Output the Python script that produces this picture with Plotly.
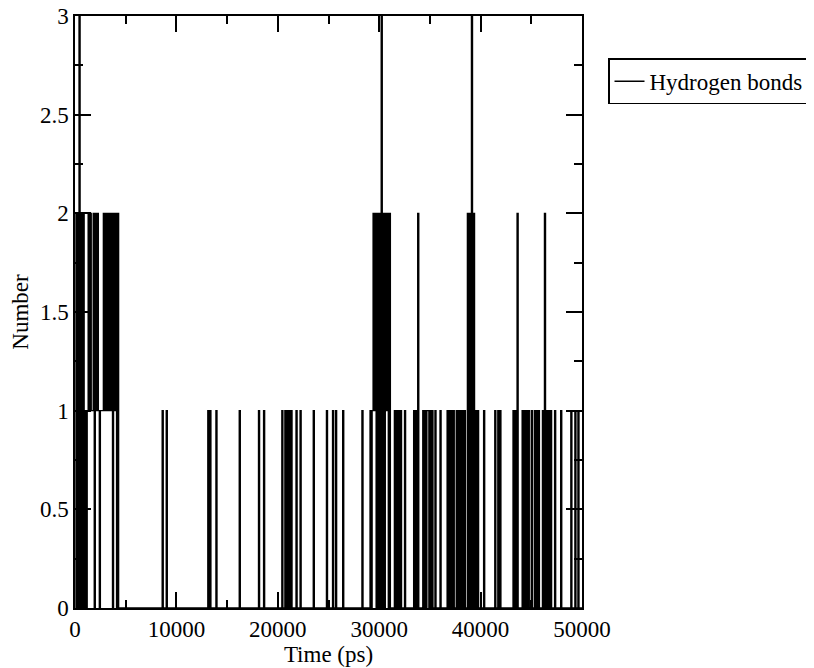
import numpy as np
import plotly.graph_objects as go

# Hydrogen-bond count vs time, sampled every 100 ps (0 .. 50000 ps).
# Frames not listed below have 0 hydrogen bonds.
frame_step_ps = 100
t_end_ps = 50000

nz_frame = [
    0, 2, 4, 6, 8, 10, 12, 13, 14, 15, 16, 17, 18, 20, 21, 22, 23, 25, 26, 27,
    28, 29, 30, 31, 32, 33, 34, 35, 36, 38, 39, 40, 42,
    86, 90, 131, 133, 139, 162, 181, 186, 204,
    207, 209, 211, 213,
    218, 222, 235, 248, 254, 257, 264, 283, 291, 293,
    294, 295, 296, 298, 300, 302, 304, 306, 307, 308, 310,
    315, 317, 319, 321, 325, 334, 336, 338,
    343, 345, 347, 348, 350, 352, 355, 360,
    367, 369, 371, 373,
    376, 378, 380, 382, 384,
    387, 389, 391, 393, 395, 397,
    403, 414, 417, 419, 432, 434, 436,
    441, 443, 445, 447, 450, 453, 455, 457,
    461, 463, 465, 467, 469,
    473, 479, 489, 493, 496,
]
nz_count = [
    2, 2, 3, 2, 2, 1, 1, 2, 1, 2, 1, 1, 2, 2, 1, 2, 1, 1, 1, 1,
    2, 1, 2, 1, 2, 1, 2, 1, 2, 2, 1, 2, 2,
    1, 1, 1, 1, 1, 1, 1, 1, 1,
    1, 1, 1, 1,
    1, 1, 1, 1, 1, 1, 1, 1, 1, 1,
    2, 1, 2, 2, 2, 3, 2, 2, 1, 2, 2,
    1, 1, 1, 1, 1, 1, 1, 2,
    1, 1, 1, 1, 1, 1, 1, 1,
    1, 1, 1, 1,
    1, 1, 1, 1, 1,
    2, 2, 3, 2, 1, 1,
    1, 1, 1, 1, 1, 1, 2,
    1, 1, 1, 1, 1, 1, 1, 1,
    1, 2, 1, 1, 1,
    1, 1, 1, 1, 1,
]

x_tickvals = [0, 10000, 20000, 30000, 40000, 50000]
x_ticktext = ["0", "10000", "20000", "30000", "40000", "50000"]
y_tickvals = [0, 0.5, 1, 1.5, 2, 2.5, 3]
y_ticktext = ["0", "0.5", "1", "1.5", "2", "2.5", "3"]

n_frames = t_end_ps // frame_step_ps + 1
time_ps = np.arange(n_frames) * frame_step_ps
counts = np.zeros(n_frames)
counts[np.array(nz_frame)] = nz_count

FONT = "Liberation Serif"
FS = 23

fig = go.Figure()
fig.add_trace(go.Scatter(
    x=time_ps, y=counts, mode="lines", name="Hydrogen bonds",
    line=dict(color="black", width=1.4, shape="hv"),
))

axis_common = dict(
    showgrid=False, zeroline=False, showline=True, linecolor="black",
    linewidth=1.5, mirror="ticks", ticks="inside", ticklen=16, tickwidth=1.5,
    tickcolor="black", tickfont=dict(family=FONT, size=FS, color="black"),
    automargin=False, ticklabeloverflow="allow",
)

fig.update_layout(
    width=814, height=668,
    margin=dict(l=67, r=240, t=8, b=68, autoexpand=False),
    paper_bgcolor="white", plot_bgcolor="white",
    font=dict(family=FONT, size=FS, color="black"),
    xaxis=dict(
        range=[0, 50000], tickvals=x_tickvals, ticktext=x_ticktext,
        minor=dict(ticks="inside", ticklen=8, tickwidth=1.5, tickcolor="black", dtick=5000),
        title=dict(text="Time (ps)", font=dict(family=FONT, size=FS), standoff=0),
        **axis_common,
    ),
    yaxis=dict(
        range=[0, 3], tickvals=y_tickvals, ticktext=y_ticktext,
        minor=dict(ticks="inside", ticklen=8, tickwidth=1.5, tickcolor="black", dtick=0.25),
        title=dict(text="Number", font=dict(family=FONT, size=FS), standoff=6),
        **axis_common,
    ),
    showlegend=True,
    legend=dict(
        x=1.0513, y=0.9285, xanchor="left", yanchor="top",
        bordercolor="black", borderwidth=1.5, bgcolor="white",
        font=dict(family=FONT, size=FS, color="black"),
        itemwidth=30,
    ),
)

fig.write_html("out.html")
